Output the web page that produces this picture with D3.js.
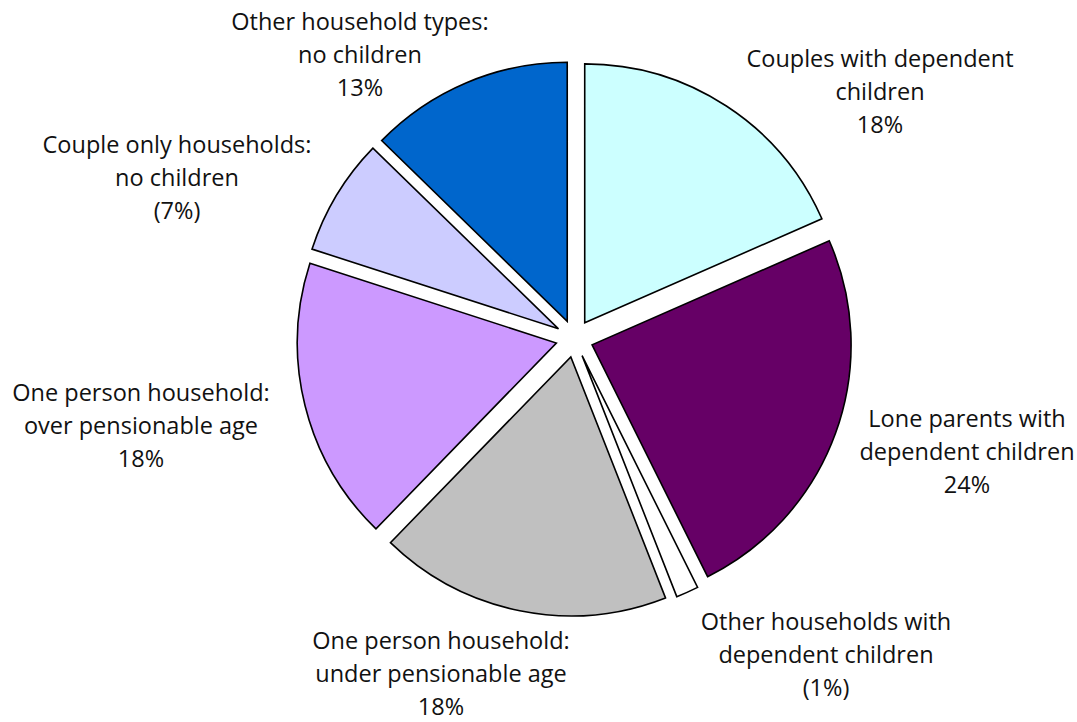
<!DOCTYPE html>
<html>
<head>
<meta charset="utf-8">
<script src="https://cdn.jsdelivr.net/npm/d3@7"></script>
<style>
  body { margin: 0; background: #fff; }
  text { font-family: "Open Sans", "Noto Sans", sans-serif; fill: #111; }
</style>
</head>
<body>
<div id="chart"></div>
<script>
// slices, clockwise from 12 o'clock
const categories = [
  "Couples with dependent children",
  "Lone parents with dependent children",
  "Other households with dependent children",
  "One person household: under pensionable age",
  "One person household: over pensionable age",
  "Couple only households: no children",
  "Other household types: no children"
];
const shares = [18.4, 24.2, 1.4, 18.2, 17.7, 7.3, 12.7];
const labelLines = [
  ["Couples with dependent", "children", "18%"],
  ["Lone parents with", "dependent children", "24%"],
  ["Other households with", "dependent children", "(1%)"],
  ["One person household:", "under pensionable age", "18%"],
  ["One person household:", "over pensionable age", "18%"],
  ["Couple only households:", "no children", "(7%)"],
  ["Other household types:", "no children", "13%"]
];
const colors = ["#CCFFFF", "#660066", "#FFFFFF", "#C0C0C0", "#CC99FF", "#CCCCFF", "#0066CC"];
// label anchor (centre x, first baseline y)
const labelPos = [[880, 67], [967, 427], [826, 630], [441, 649], [141, 401], [177, 153], [360, 30]];

const width = 1077, height = 722;
const cx = 574.5, cy = 338.5, radius = 259, explode = 18.7;
const lineHeight = 33;

const svg = d3.select("#chart").append("svg")
  .attr("width", width)
  .attr("height", height);

const pie = d3.pie().sort(null).value(d => d)(shares);
const arc = d3.arc().innerRadius(0).outerRadius(radius);

const g = svg.append("g").attr("transform", `translate(${cx},${cy})`);

g.selectAll("path")
  .data(pie)
  .join("path")
  .attr("transform", d => {
    const mid = (d.startAngle + d.endAngle) / 2;
    return `translate(${explode * Math.sin(mid)},${-explode * Math.cos(mid)})`;
  })
  .attr("d", arc)
  .attr("fill", (d, i) => colors[i])
  .attr("stroke", "#000")
  .attr("stroke-width", 1.6)
  .attr("stroke-linejoin", "miter");

// labels
const labels = svg.selectAll("text.label")
  .data(categories)
  .join("text")
  .attr("class", "label")
  .attr("text-anchor", "middle")
  .attr("font-size", 23.5);

labels.selectAll("tspan")
  .data((d, i) => labelLines[i].map(t => ({ t, i })))
  .join("tspan")
  .attr("x", d => labelPos[d.i][0])
  .attr("y", (d, j) => labelPos[d.i][1] + j * lineHeight)
  .text(d => d.t);
</script>
</body>
</html>
